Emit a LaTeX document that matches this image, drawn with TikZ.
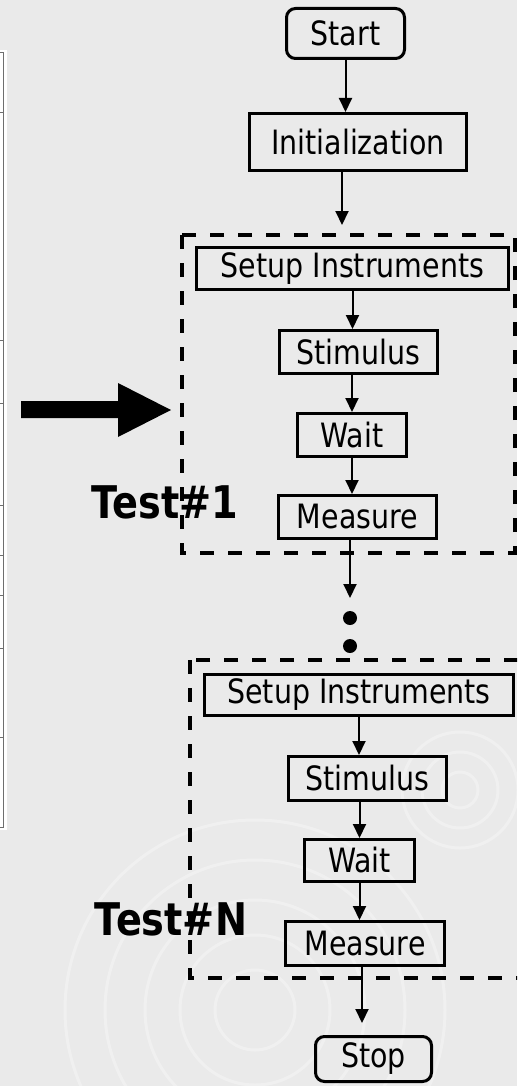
\documentclass[tikz,border=0pt]{standalone}
\usepackage{fontspec}
\setmainfont{DejaVu Sans}[FakeStretch=0.85]
\usetikzlibrary{arrows.meta}
\definecolor{bg}{HTML}{EAEAEA}
\definecolor{tblline}{HTML}{6E6E6E}
\tikzset{
  box/.style={draw=black, line width=3pt, rectangle, inner sep=0pt, font=\fontsize{33.5}{36}\selectfont},
  rbox/.style={box, rounded corners=9pt},
  arr/.style={draw=black, line width=2pt, -{Triangle[length=14pt,width=13pt]}},
  group/.style={draw=black, line width=4pt, dash pattern=on 14pt off 14pt},
  testlabel/.style={font=\fontsize{45}{48}\selectfont\bfseries, inner sep=0pt},
  dotnode/.style={circle, fill=black, minimum size=14pt, inner sep=0pt},
  swirl/.style={draw=white, line width=3pt, opacity=0.3},
}
\begin{document}
\begin{tikzpicture}[x=1pt, y=-1pt]
\useasboundingbox (0,0) rectangle (517,1086);
\fill[bg] (0,0) rectangle (517,1086);
% faint background swirls
\begin{scope}
\clip (0,0) rectangle (517,1086);
\foreach \r in {40,75,110,150,190} \draw[swirl] (255,1010) circle[radius=\r];
\foreach \r in {18,38,58} \draw[swirl] (460,790) circle[radius=\r];
\end{scope}
% partial table at left edge
\fill[white] (0,50) rectangle (7,830);
\draw[tblline, line width=1pt] (0,53) -- (3,53) -- (3,827) -- (0,827);
\foreach \yy in {113,340,403,505,555,595,648,737} \draw[tblline, line width=1pt] (0,\yy) -- (3,\yy);
% big arrow
\fill[black] (21,401) -- (118,401) -- (118,383) -- (171,410) -- (118,437) -- (118,418) -- (21,418) -- cycle;
% dashed groups
\draw[group] (182,235) rectangle (515,553);
\begin{scope}
\clip (0,0) rectangle (517,1086);
\draw[group] (190,660) rectangle (540,978);
\end{scope}
% nodes
\node[rbox, minimum width=118pt, minimum height=50pt] (start) at (345.5,33.5) {Start};
\node[box, minimum width=217pt, minimum height=57pt] (init) at (358,142) {Initialization};
\node[box, minimum width=312pt, minimum height=42pt] (setup1) at (352.5,268.5) {Setup Instruments};
\node[box, minimum width=158pt, minimum height=43pt] (stim1) at (358.5,352) {Stimulus};
\node[box, minimum width=109pt, minimum height=43pt] (wait1) at (352,435) {Wait};
\node[box, minimum width=158pt, minimum height=43pt] (meas1) at (357.5,517) {Measure};
\node[dotnode] (dot1) at (350,618) {};
\node[dotnode] (dot2) at (350,646) {};
\node[box, minimum width=309pt, minimum height=41pt] (setup2) at (359,695) {Setup Instruments};
\node[box, minimum width=158pt, minimum height=44pt] (stim2) at (367.5,778.5) {Stimulus};
\node[box, minimum width=110pt, minimum height=42pt] (wait2) at (359.5,860.5) {Wait};
\node[box, minimum width=159pt, minimum height=44pt] (meas2) at (365,943.5) {Measure};
\node[rbox, minimum width=116pt, minimum height=45pt] (stop) at (373.5,1059) {Stop};
\node[testlabel] (t1) at (165,502) {Test\#1};
\node[testlabel] (tn) at (171,919) {Test\#N};
% free arrow ends
\coordinate (g1in) at (342,225);
\coordinate (d1in) at (350,598);
\coordinate (stopin) at (362,1023);
% connectors
\draw[arr] (start.south) -- (start.south |- init.north);
\draw[arr] (init.south -| g1in) -- (g1in);
\draw[arr] (setup1.south) -- (setup1.south |- stim1.north);
\draw[arr] (wait1.north |- stim1.south) -- (wait1.north);
\draw[arr] (wait1.south) -- (wait1.south |- meas1.north);
\draw[arr] (meas1.south -| d1in) -- (d1in);
\draw[arr] (setup2.south) -- (setup2.south |- stim2.north);
\draw[arr] (wait2.north |- stim2.south) -- (wait2.north);
\draw[arr] (wait2.south) -- (wait2.south |- meas2.north);
\draw[arr] (meas2.south -| stopin) -- (stopin);
\end{tikzpicture}
\end{document}
